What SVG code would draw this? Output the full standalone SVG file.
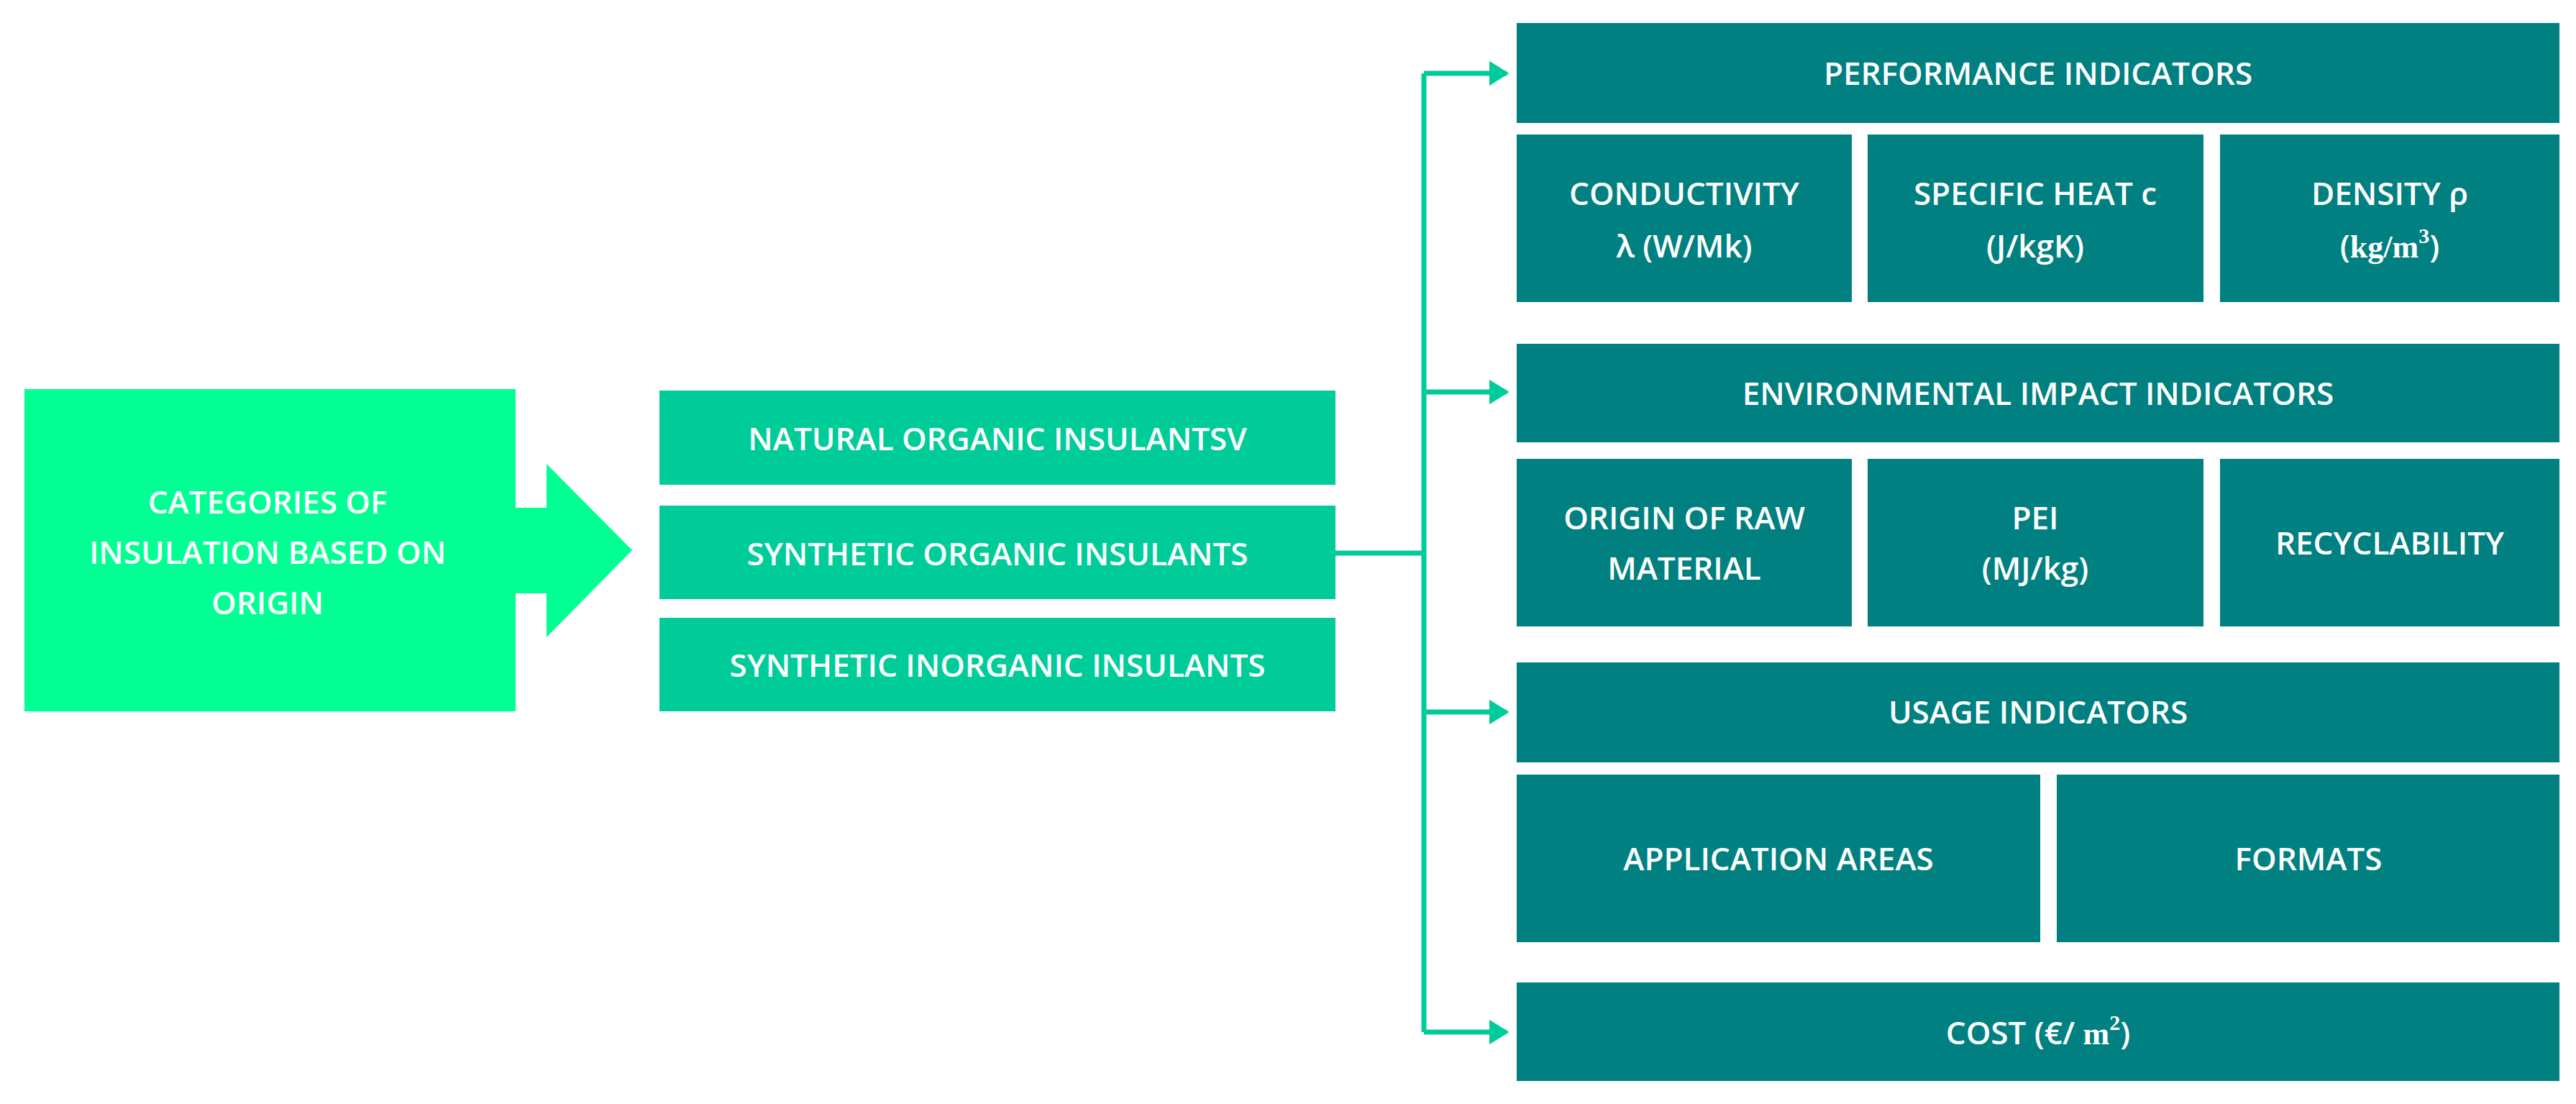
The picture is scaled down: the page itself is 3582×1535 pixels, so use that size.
<svg xmlns="http://www.w3.org/2000/svg" width="3582" height="1535" viewBox="0 0 3582 1535">
<style>
.t{font-family:"Open Sans","Liberation Sans",sans-serif;font-weight:600;font-size:44px;fill:#fff;text-anchor:middle}
.m{font-family:"Liberation Serif",serif;font-weight:700}
.teal{fill:#008080}
.mid{fill:#00CC99}
.c{stroke:#00CC99;stroke-width:7;fill:none}
</style>
<defs>
<marker id="ah" markerWidth="4" markerHeight="5" refX="3.5" refY="2.5" orient="auto" markerUnits="strokeWidth">
<path d="M0,0 L4,2.5 L0,5 Z" fill="#00CC99"/>
</marker>
</defs>
<rect width="3582" height="1535" fill="#fff"/>
<g id="categories">
<path d="M34,541 H717 V706 H760 V645 L879,765 L760,886 V825 H717 V989 H34 Z" fill="#02FF94"/>
<text class="t" x="372" y="714">CATEGORIES OF</text>
<text class="t" x="372" y="784">INSULATION BASED ON</text>
<text class="t" x="372" y="854">ORIGIN</text>
</g>
<g id="natural"><rect class="mid" x="917" y="543" width="940" height="131"/><text class="t" x="1387" y="626">NATURAL ORGANIC INSULANTSV</text></g>
<g id="synorg"><rect class="mid" x="917" y="703" width="940" height="130"/><text class="t" x="1387" y="786">SYNTHETIC ORGANIC INSULANTS</text></g>
<g id="syninorg"><rect class="mid" x="917" y="859" width="940" height="130"/><text class="t" x="1387" y="941">SYNTHETIC INORGANIC INSULANTS</text></g>
<g id="connectors">
<path class="c" d="M1857,769 H1980"/>
<path class="c" d="M1980,102 V1435"/>
<path class="c" d="M1980,102 H2095" marker-end="url(#ah)"/>
<path class="c" d="M1980,545 H2095" marker-end="url(#ah)"/>
<path class="c" d="M1980,990 H2095" marker-end="url(#ah)"/>
<path class="c" d="M1980,1435 H2095" marker-end="url(#ah)"/>
</g>
<g id="perf"><rect class="teal" x="2109" y="32" width="1450" height="139"/><text class="t" x="2834" y="118">PERFORMANCE INDICATORS</text></g>
<g id="cond"><rect class="teal" x="2109" y="187" width="466" height="233"/><text class="t" x="2342" y="285">CONDUCTIVITY</text><text class="t" x="2342" y="358" font-weight="400">λ (W/Mk)</text></g>
<g id="heat"><rect class="teal" x="2597" y="187" width="467" height="233"/><text class="t" x="2830" y="285">SPECIFIC HEAT c</text><text class="t" x="2830" y="358">(J/kgK)</text></g>
<g id="density"><rect class="teal" x="3087" y="187" width="472" height="233"/><text class="t" x="3323" y="285">DENSITY ρ</text><text class="t" x="3323" y="358">(<tspan class="m">kg/m</tspan><tspan class="m" font-size="30" dy="-20">3</tspan><tspan dy="20">)</tspan></text></g>
<g id="env"><rect class="teal" x="2109" y="478" width="1450" height="137"/><text class="t" x="2834" y="563">ENVIRONMENTAL IMPACT INDICATORS</text></g>
<g id="origin"><rect class="teal" x="2109" y="638" width="466" height="233"/><text class="t" x="2342" y="736">ORIGIN OF RAW</text><text class="t" x="2342" y="806">MATERIAL</text></g>
<g id="pei"><rect class="teal" x="2597" y="638" width="467" height="233"/><text class="t" x="2830" y="736">PEI</text><text class="t" x="2830" y="806">(MJ/kg)</text></g>
<g id="recyc"><rect class="teal" x="3087" y="638" width="472" height="233"/><text class="t" x="3323" y="771">RECYCLABILITY</text></g>
<g id="usage"><rect class="teal" x="2109" y="921" width="1450" height="139"/><text class="t" x="2834" y="1006">USAGE INDICATORS</text></g>
<g id="app"><rect class="teal" x="2109" y="1077" width="728" height="233"/><text class="t" x="2473" y="1210">APPLICATION AREAS</text></g>
<g id="formats"><rect class="teal" x="2860" y="1077" width="699" height="233"/><text class="t" x="3210" y="1210">FORMATS</text></g>
<g id="cost"><rect class="teal" x="2109" y="1366" width="1450" height="137"/><text class="t" x="2834" y="1452">COST (€/ <tspan class="m">m</tspan><tspan class="m" font-size="30" dy="-20">2</tspan><tspan dy="20">)</tspan></text></g>
</svg>
